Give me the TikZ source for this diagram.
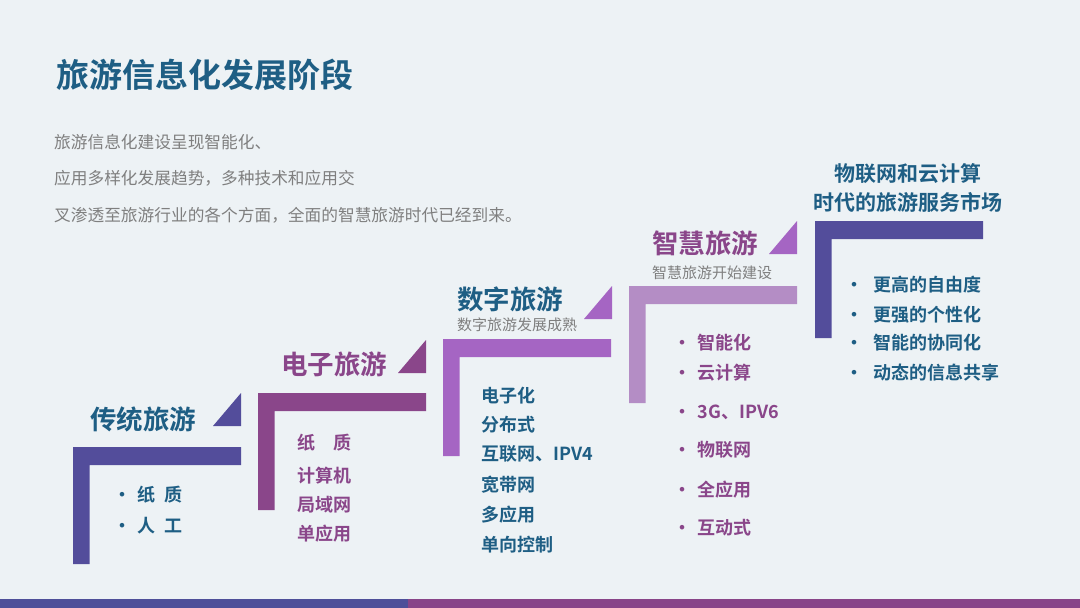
\documentclass[tikz,border=0pt]{standalone}
\usepackage{fontspec}
\setmainfont{Noto Sans CJK SC}[BoldFont={Noto Sans CJK SC Bold}]
\usepackage{xcolor}
\usepackage{tikz}
\usetikzlibrary{positioning}
\definecolor{bg}{HTML}{EDF2F5}
\definecolor{ink}{HTML}{1E5E84}
\definecolor{plm}{HTML}{8A468A}
\definecolor{blu}{HTML}{534D9B}
\definecolor{lil}{HTML}{A565C3}
\definecolor{lav}{HTML}{B48DC5}
\definecolor{sub}{HTML}{7F7F7F}
\definecolor{barl}{HTML}{4E4F99}
\definecolor{barr}{HTML}{884488}
\newcommand{\stair}[3]{
    \pgfmathsetmacro{\x}{#1}
    \pgfmathsetmacro{\y}{#2}
    \fill[color=#3] (\x, \y) -- (\x+168, \y) -- (\x+168, \y+18) -- (\x+16.5,
    \y+18) -- (\x+16.5, \y+117) -- (\x, \y+117) -- cycle;
}
\newcommand{\corner}[3]{
    \pgfmathsetmacro{\x}{#1}
    \pgfmathsetmacro{\y}{#2}
    \fill[color=#3] (\x-28, \y) -- (\x, \y) -- (\x, \y-33) -- cycle;
}
\newcommand{\bul}[1][24.5pt]{\makebox[#1][l]{•}}
\tikzset{
    stagetitle/.style={anchor=west, inner sep=0, font=\fontsize{26.5}{30}\selectfont\bfseries},
    item/.style={anchor=west, inner sep=0, font=\fontsize{18}{20}\selectfont\bfseries},
    note/.style={anchor=west, inner sep=0, text=sub, font=\fontsize{15}{17}\selectfont}
}

\begin{document}
\begin{tikzpicture}[x=1pt, y=-1pt]
        \fill[bg] (0, 0) rectangle (1080, 608);
        \useasboundingbox (0, 0) rectangle (1080, 608);

        \node[anchor=west, inner sep=0, text=ink, font=\fontsize{33}{36}\selectfont\bfseries]
            (title) at (56, 75) {旅游信息化发展阶段};
        \foreach \txt [count=\ci] in {旅游信息化建设呈现智能化、,
            应用多样化发展趋势，多种技术和应用交,
            叉渗透至旅游行业的各个方面，全面的智慧旅游时代已经到来。} {
            \node[anchor=west, inner sep=0, text=sub, font=\fontsize{16.7}{18}\selectfont]
                (p\ci) at (54, 142 + \ci*36.5 - 36.5) {\txt};
        }

        % stage 1
        \stair{73}{447}{blu}
        \corner{241}{426}{blu}
        \node[stagetitle, text=ink] (t1) at (90, 419) {传统旅游};
        \node[item, text=ink] (s1-1) at (113, 495) {\bul 纸\hspace{0.5em}质};
        \node[item, text=ink] (s1-2) at (113, 526) {\bul 人\hspace{0.5em}工};

        % stage 2
        \stair{258}{393}{plm}
        \corner{426}{373}{plm}
        \node[stagetitle, text=plm] (t2) at (281, 364) {电子旅游};
        \foreach \yy/\txt [count=\ci] in {443/纸\quad 质, 476/计算机, 505/局域网, 534/单应用} {
            \node[item, text=plm] (s2-\ci) at (297, \yy) {\txt};
        }

        % stage 3
        \stair{443}{339}{lil}
        \corner{612}{319}{lil}
        \node[stagetitle, text=ink] (t3) at (457, 299) {数字旅游};
        \node[note] (n3) at (457, 325) {数字旅游发展成熟};
        \foreach \yy/\txt [count=\ci] in {396/电子化, 425/分布式, 454/互联网、IPV4,
            485/宽带网, 515/多应用, 545/单向控制} {
            \node[item, text=ink] (s3-\ci) at (481, \yy) {\txt};
        }

        % stage 4
        \stair{629}{286}{lav}
        \corner{797}{254}{lil}
        \node[stagetitle, text=plm] (t4) at (652, 243) {智慧旅游};
        \node[note] (n4) at (652, 273) {智慧旅游开始建设};
        \foreach \yy/\txt [count=\ci] in {343/智能化, 373/云计算, 412/3G、IPV6,
            450/物联网, 490/全应用, 528/互动式} {
            \node[item, text=plm] (s4-\ci) at (673, \yy) {\bul\txt};
        }

        % stage 5
        \stair{815}{221}{blu}
        \node[inner sep=0, text=ink, align=center, font=\fontsize{21}{29}\selectfont\bfseries]
            (t5) at (908, 188) {物联网和云计算\\时代的旅游服务市场};
        \foreach \yy/\txt [count=\ci] in {285/更高的自由度, 315/更强的个性化,
            343/智能的协同化, 373/动态的信息共享} {
            \node[item, text=ink] (s5-\ci) at (845, \yy) {\bul[28pt]\txt};
        }

        \fill[barl] (0, 599) rectangle (408, 608);
        \fill[barr] (408, 599) rectangle (1080, 608);
\end{tikzpicture}
\end{document}
